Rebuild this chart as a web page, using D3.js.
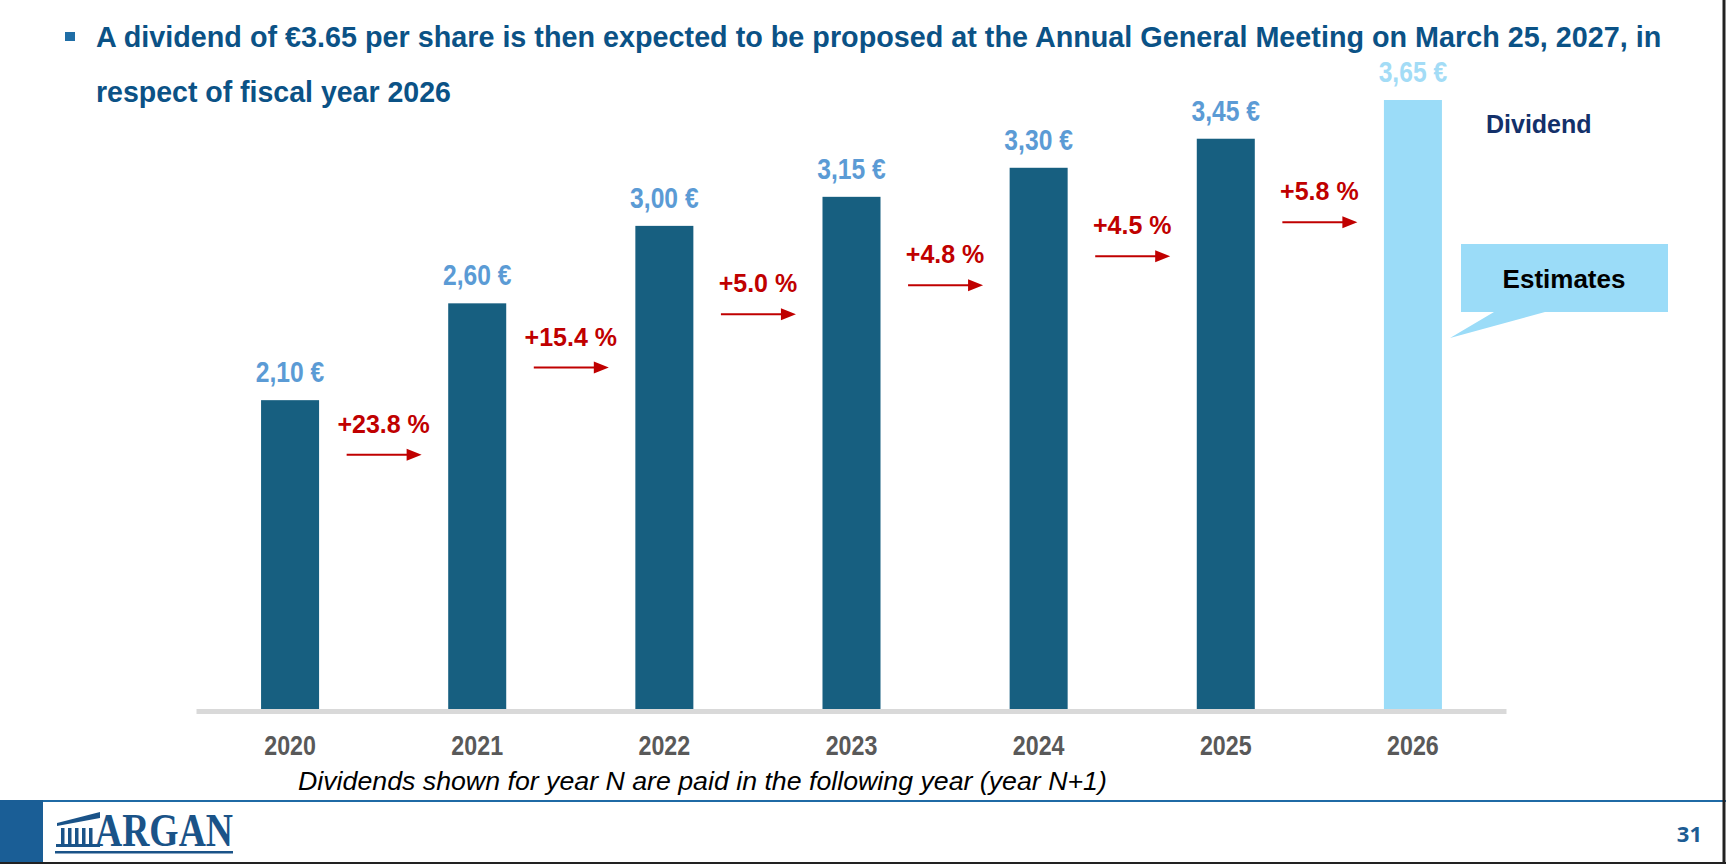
<!DOCTYPE html>
<html>
<head>
<meta charset="utf-8">
<script src="https://cdn.jsdelivr.net/npm/d3@7"></script>
<style>
  body { margin: 0; background: #fff; }
  svg { display: block; }
</style>
</head>
<body>
<svg id="drawing_region"></svg>
<script>
// data
const years = ['2020', '2021', '2022', '2023', '2024', '2025', '2026'];
const dividends = [2.10, 2.60, 3.00, 3.15, 3.30, 3.45, 3.65];
const valueLabels = ['2,10 €', '2,60 €', '3,00 €', '3,15 €', '3,30 €', '3,45 €', '3,65 €'];
const isEstimate = [false, false, false, false, false, false, true];
const growthLabels = ['+23.8 %', '+15.4 %', '+5.0 %', '+4.8 %', '+4.5 %', '+5.8 %'];
const yDomain = [0.5, 3.65];

const titleLines = [
  'A dividend of €3.65 per share is then expected to be proposed at the Annual General Meeting on March 25, 2027, in',
  'respect of fiscal year 2026'
];
const footnote = 'Dividends shown for year N are paid in the following year (year N+1)';
const legendText = 'Dividend';
const calloutText = 'Estimates';
const pageNumber = '31';

const SANS = '"Liberation Sans", Arial, sans-serif';

// squeeze/stretch a text to a given width
function fit(sel, w) {
  sel.attr('textLength', w).attr('lengthAdjust', 'spacingAndGlyphs');
}
// fake a narrow face: squeeze each text to a share of its natural width
function condense(sel, ratio) {
  sel.each(function () {
    const w = this.getComputedTextLength();
    d3.select(this).attr('textLength', w * ratio).attr('lengthAdjust', 'spacingAndGlyphs');
  });
}
// same idea for long lines, done with a scale so the box stays right
function squeezeTo(sel, x, y, w) {
  sel.attr('x', 0).attr('y', 0);
  const s = w / sel.node().getComputedTextLength();
  sel.attr('transform', `translate(${x},${y}) scale(${s},1)`);
}

class DividendChart {
  constructor(config) {
    this.config = config;
    this.init();
  }

  init() {
    let self = this;
    self.svg = d3.select(self.config.parent)
      .attr('width', self.config.width)
      .attr('height', self.config.height);

    self.data = years.map((y, i) => ({
      year: y, value: dividends[i], label: valueLabels[i], est: isEstimate[i]
    }));

    self.x = d3.scaleBand()
      .domain(years)
      .range([196.5, 1506.5])
      .paddingInner(0.69)
      .paddingOuter(0.345);

    self.y = d3.scaleLinear()
      .domain(yDomain)
      .range([710, 100]);
  }

  render() {
    let self = this;
    const svg = self.svg, x = self.x, y = self.y;

    svg.append('rect').attr('width', self.config.width).attr('height', self.config.height).attr('fill', '#fff');

    // title
    svg.append('rect').attr('x', 65).attr('y', 32).attr('width', 10).attr('height', 9).attr('fill', '#1f6ea6');
    const tw = [1566, 355];
    const tb = [47, 102];
    titleLines.forEach((t, i) => {
      svg.append('text')
        .attr('font-family', SANS).attr('font-weight', 'bold').attr('font-size', 30)
        .attr('fill', '#0b5286')
        .text(t)
        .call(squeezeTo, 96, tb[i], tw[i]);
    });

    // bars
    svg.selectAll('.bar')
      .data(self.data)
      .join('rect')
      .attr('class', 'bar')
      .attr('x', d => x(d.year))
      .attr('y', d => y(d.value))
      .attr('width', x.bandwidth())
      .attr('height', d => y(yDomain[0]) - y(d.value))
      .attr('fill', d => d.est ? '#9bdcf8' : '#175f80');

    // baseline
    svg.append('line')
      .attr('x1', x.range()[0]).attr('x2', x.range()[1])
      .attr('y1', y(yDomain[0]) + 1.5).attr('y2', y(yDomain[0]) + 1.5)
      .attr('stroke', '#d9d9d9').attr('stroke-width', 5);

    // value labels
    svg.selectAll('.val')
      .data(self.data)
      .join('text')
      .attr('class', 'val')
      .attr('x', d => x(d.year) + x.bandwidth() / 2)
      .attr('y', d => y(d.value) - 18)
      .attr('text-anchor', 'middle')
      .attr('font-family', SANS).attr('font-weight', 'bold').attr('font-size', 29)
      .attr('fill', d => d.est ? '#a3dcf6' : '#5b9bd5')
      .text(d => d.label)
      .call(condense, 0.85);

    // year labels
    svg.selectAll('.yr')
      .data(self.data)
      .join('text')
      .attr('class', 'yr')
      .attr('x', d => x(d.year) + x.bandwidth() / 2)
      .attr('y', 755)
      .attr('text-anchor', 'middle')
      .attr('font-family', SANS).attr('font-weight', 'bold').attr('font-size', 28)
      .attr('fill', '#595959')
      .text(d => d.year)
      .call(condense, 0.83);

    // growth arrows between bars
    const growth = growthLabels.map((g, i) => {
      const a = self.data[i], b = self.data[i + 1];
      const cx = (x(a.year) + x(b.year)) / 2 + x.bandwidth() / 2;
      const ay = (y(a.value) + y(b.value)) / 2 + 103;
      return { label: g, cx: cx, ay: ay };
    });

    const gg = svg.selectAll('.growth')
      .data(growth)
      .join('g')
      .attr('class', 'growth');

    gg.append('text')
      .attr('x', d => d.cx)
      .attr('y', d => d.ay - 22)
      .attr('text-anchor', 'middle')
      .attr('font-family', SANS).attr('font-weight', 'bold').attr('font-size', 25)
      .attr('fill', '#c00000')
      .text(d => d.label);

    gg.append('path')
      .attr('d', d => `M${d.cx - 37},${d.ay}H${d.cx + 24}`)
      .attr('stroke', '#c00000').attr('stroke-width', 2);
    gg.append('path')
      .attr('d', d => `M${d.cx + 23},${d.ay - 6}L${d.cx + 38},${d.ay}L${d.cx + 23},${d.ay + 6}Z`)
      .attr('fill', '#c00000');

    // legend
    svg.append('text')
      .attr('x', 1486).attr('y', 133)
      .attr('font-family', SANS).attr('font-weight', 'bold').attr('font-size', 25)
      .attr('fill', '#13306a')
      .text(legendText);

    // estimates callout
    svg.append('path')
      .attr('d', 'M1461,244H1668V312H1545L1450,338L1494,312H1461Z')
      .attr('fill', '#9bdcf8');
    svg.append('text')
      .attr('x', 1564).attr('y', 288)
      .attr('text-anchor', 'middle')
      .attr('font-family', SANS).attr('font-weight', 'bold').attr('font-size', 26)
      .attr('fill', '#000')
      .text(calloutText);

    // footnote
    svg.append('text')
      .attr('font-family', SANS).attr('font-style', 'italic').attr('font-size', 26.5)
      .attr('fill', '#000')
      .text(footnote)
      .call(squeezeTo, 298, 790, 809);

    // footer
    svg.append('rect').attr('x', 0).attr('y', 800).attr('width', 43).attr('height', 64).attr('fill', '#1a5e96');
    svg.append('line').attr('x1', 43).attr('x2', 1726).attr('y1', 801).attr('y2', 801)
      .attr('stroke', '#1f6aa5').attr('stroke-width', 2);

    const logo = svg.append('g').attr('fill', '#1a5388');
    logo.append('path').attr('d', 'M57,823L100,812V818L57,826Z');
    d3.range(5).forEach(i => {
      logo.append('rect').attr('x', 61 + i * 7).attr('y', 828).attr('width', 3.5).attr('height', 16);
    });
    logo.append('rect').attr('x', 56).attr('y', 844).attr('width', 44).attr('height', 3);
    logo.append('rect').attr('x', 55).attr('y', 851).attr('width', 178).attr('height', 2.5);
    logo.append('text')
      .attr('x', 95).attr('y', 846)
      .attr('font-family', '"Liberation Serif", "Times New Roman", serif').attr('font-weight', 'bold')
      .attr('font-size', 47)
      .text('ARGAN')
      .call(fit, 138);

    svg.append('text')
      .attr('x', 1702).attr('y', 842)
      .attr('text-anchor', 'end')
      .attr('font-family', '"Open Sans", sans-serif').attr('font-weight', 'bold').attr('font-size', 22)
      .attr('fill', '#1d5c93')
      .text(pageNumber);

    // slide frame edges
    svg.append('line').attr('x1', 1724).attr('x2', 1724).attr('y1', 0).attr('y2', 864).attr('stroke', '#222').attr('stroke-width', 3);
    svg.append('line').attr('x1', 0).attr('x2', 1726).attr('y1', 863).attr('y2', 863).attr('stroke', '#222').attr('stroke-width', 2);
  }
}

const chart = new DividendChart({ parent: '#drawing_region', width: 1726, height: 864 });
chart.render();
</script>
</body>
</html>
